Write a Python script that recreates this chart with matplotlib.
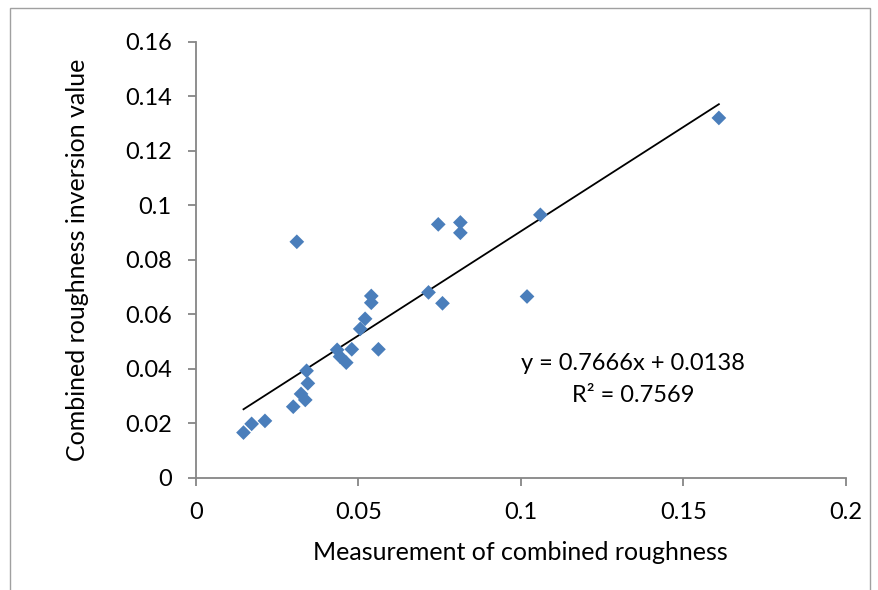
import matplotlib
matplotlib.use("Agg")
import matplotlib.pyplot as plt
from matplotlib.patches import Rectangle

# Data
measured = [0.0147, 0.0172, 0.0213, 0.0300, 0.0324, 0.0337, 0.0345, 0.0341,
            0.0311, 0.0435, 0.0444, 0.0463, 0.0480, 0.0506, 0.0521, 0.0540,
            0.0540, 0.0562, 0.0716, 0.0746, 0.0759, 0.0814, 0.0814, 0.1019,
            0.1060, 0.1609]
inverted = [0.0165, 0.0197, 0.0208, 0.0260, 0.0307, 0.0285, 0.0346, 0.0392,
            0.0866, 0.0469, 0.0444, 0.0422, 0.0471, 0.0546, 0.0583, 0.0667,
            0.0642, 0.0471, 0.0680, 0.0930, 0.0640, 0.0937, 0.0899, 0.0665,
            0.0965, 0.1321]
slope = 0.7666
intercept = 0.0138
eq_text = "y = 0.7666x + 0.0138"
r2_text = "R² = 0.7569"
x_ticks = [0, 0.05, 0.1, 0.15, 0.2]
x_labels = ["0", "0.05", "0.1", "0.15", "0.2"]
y_ticks = [0, 0.02, 0.04, 0.06, 0.08, 0.1, 0.12, 0.14, 0.16]
y_labels = ["0", "0.02", "0.04", "0.06", "0.08", "0.1", "0.12", "0.14", "0.16"]

plt.rcParams['font.family'] = ['Lato', 'DejaVu Sans']

W, H = 879, 590
fig = plt.figure(figsize=(W / 100, H / 100), dpi=100)
ax = fig.add_axes([195.7 / W, 1 - 477.5 / H, (846 - 195.7) / W, (477.5 - 42) / H])

axis_col = "#868686"
ax.scatter(measured, inverted, marker="D", s=7.5 ** 2, color="#4A7EBB",
           edgecolors="none", zorder=3, clip_on=False)
xs = [min(measured), max(measured)]
ax.plot(xs, [slope * v + intercept for v in xs], color="black", lw=1.3, zorder=2)

ax.set_xlim(0, 0.2)
ax.set_ylim(0, 0.16)
ax.set_xticks(x_ticks)
ax.set_xticklabels(x_labels)
ax.set_yticks(y_ticks)
ax.set_yticklabels(y_labels)
for s in ("top", "right"):
    ax.spines[s].set_visible(False)
for s in ("left", "bottom"):
    ax.spines[s].set_color(axis_col)
    ax.spines[s].set_linewidth(1.3)
ax.tick_params(axis="both", direction="out", length=5.8, width=1.3, color=axis_col,
               labelsize=17, labelcolor="black", pad=11.5)

ax.set_xlabel("Measurement of combined roughness", fontsize=18, va="center")
ax.set_ylabel("Combined roughness inversion value", fontsize=18, va="center")
ax.xaxis.set_label_coords(0.5, (477.5 - 553) / 435.5)
ax.yaxis.set_label_coords((78 - 195.7) / 650.3, 0.5)

ax.text(0.1345, 0.0418, eq_text, fontsize=17, ha="center", va="center")
ax.text(0.1345, 0.0302, r2_text, fontsize=17, ha="center", va="center")

# outer chart border
fig.patches.append(Rectangle((10 / W, -0.05), (870 - 10) / W, 1.05 - 8 / H,
                             transform=fig.transFigure, fill=False,
                             edgecolor="#A0A0A0", lw=1.0))

fig.savefig("out.png", dpi=100, facecolor="white")
